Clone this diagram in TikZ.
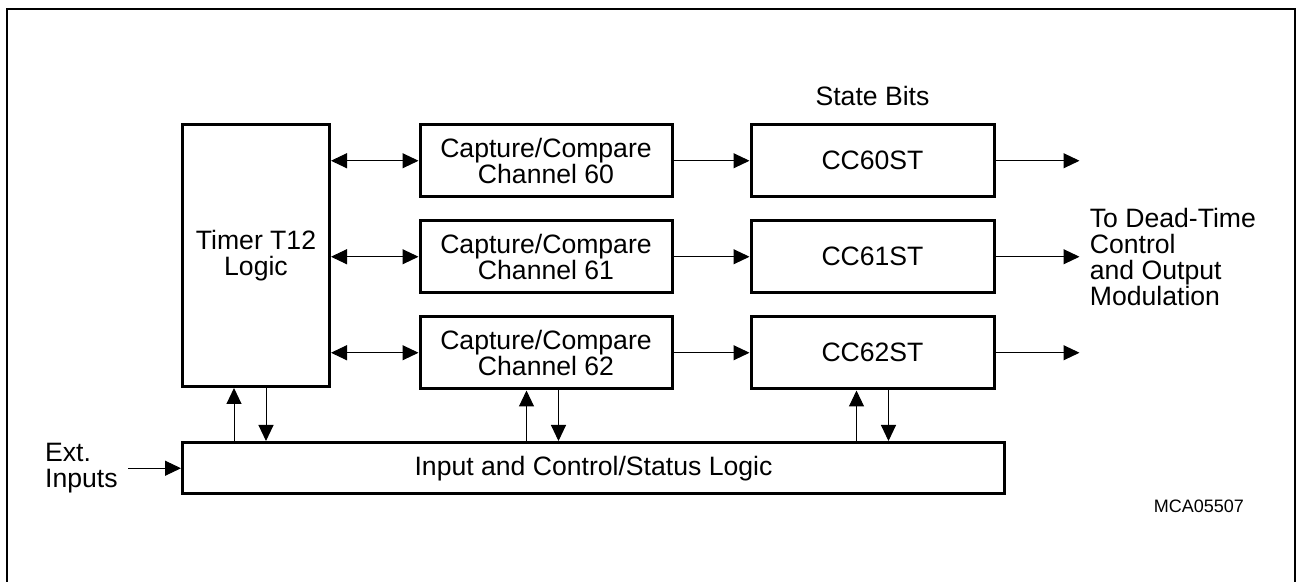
\documentclass[tikz,border=0pt]{standalone}
\usepackage{fontspec}
\setmainfont{Liberation Sans}
\usetikzlibrary{arrows.meta, positioning, calc}

\begin{document}
\begin{tikzpicture}[
  x=0.5pt, y=-0.5pt,
  font=\fontsize{13.3pt}{13pt}\selectfont,
  block/.style={rectangle, draw=black, line width=1.5pt, align=center, inner sep=2pt},
  timerbox/.style={block, minimum width=73.5pt, minimum height=131pt},
  channel/.style={block, minimum width=126pt, minimum height=36.25pt},
  statebox/.style={block, minimum width=121.5pt, minimum height=36.25pt},
  logicbox/.style={block, minimum width=411pt, minimum height=25.75pt},
  line/.style={draw=black, line width=0.5pt},
  arr/.style={line, -{Triangle[length=8pt, width=7.5pt]}},
  biarr/.style={line, {Triangle[length=8pt, width=7.5pt]}-{Triangle[length=8pt, width=7.5pt]}},
  frame/.style={draw=black, line width=1pt}
]

  \useasboundingbox (0,0) rectangle (1297,582);
  \draw[frame] (7,600) -- (7,9) -- (1295,9) -- (1295,600);

  \node[timerbox, anchor=north west] (timer) at (181,123) {Timer T12\\Logic};
  \node[channel, right=43.75pt of timer.north east, anchor=north west] (ch60) {Capture/Compare\\Channel 60};
  \node[channel, below=10.25pt of ch60] (ch61) {Capture/Compare\\Channel 61};
  \node[channel, below=10.25pt of ch61] (ch62) {Capture/Compare\\Channel 62};

  \node[statebox, right=38pt of ch60] (st60) {CC60ST};
  \node[statebox, right=38pt of ch61] (st61) {CC61ST};
  \node[statebox, right=38pt of ch62] (st62) {CC62ST};
  \node[inner sep=0pt, above=8.5pt of st60] (bits) {State Bits};

  \node[logicbox, below=26.5pt of timer.south west, anchor=north west] (io) {Input and Control/Status Logic};

  \coordinate[right=42pt of st60] (out60);
  \coordinate[right=42pt of st61] (out61);
  \coordinate[right=42pt of st62] (out62);
  \node[right=3pt of out61, align=left, inner sep=2pt] (dest) {To Dead-Time\\Control\\and Output\\Modulation};

  \coordinate[left=26.5pt of io] (ext);
  \node[left=3pt of ext, align=left, inner sep=2pt] (extlbl) {Ext.\\Inputs};

  \coordinate (tup) at ($(timer.south west)+(26.5pt,0pt)$);
  \coordinate (tdn) at ($(timer.south west)+(42.5pt,0pt)$);
  \coordinate (cup) at ($(ch62.south west)+(54pt,0pt)$);
  \coordinate (cdn) at ($(ch62.south west)+(70pt,0pt)$);
  \coordinate (stup) at ($(st62.south west)+(53.5pt,0pt)$);
  \coordinate (stdn) at ($(st62.south west)+(69.5pt,0pt)$);

  \node[font=\fontsize{9pt}{10pt}\selectfont, anchor=base east] (code) at (1251,513) {MCA05507};

  \draw[biarr] (ch60.west -| timer.east) -- (ch60.west);
  \draw[biarr] (ch61.west -| timer.east) -- (ch61.west);
  \draw[biarr] (ch62.west -| timer.east) -- (ch62.west);

  \draw[arr] (ch60) -- (st60);
  \draw[arr] (ch61) -- (st61);
  \draw[arr] (ch62) -- (st62);

  \draw[arr] (st60) -- (out60);
  \draw[arr] (st61) -- (out61);
  \draw[arr] (st62) -- (out62);

  \draw[arr] (ext) -- (io);

  \draw[arr] (tup |- io.north) -- (tup);
  \draw[arr] (tdn) -- (tdn |- io.north);
  \draw[arr] (cup |- io.north) -- (cup);
  \draw[arr] (cdn) -- (cdn |- io.north);
  \draw[arr] (stup |- io.north) -- (stup);
  \draw[arr] (stdn) -- (stdn |- io.north);

\end{tikzpicture}
\end{document}
